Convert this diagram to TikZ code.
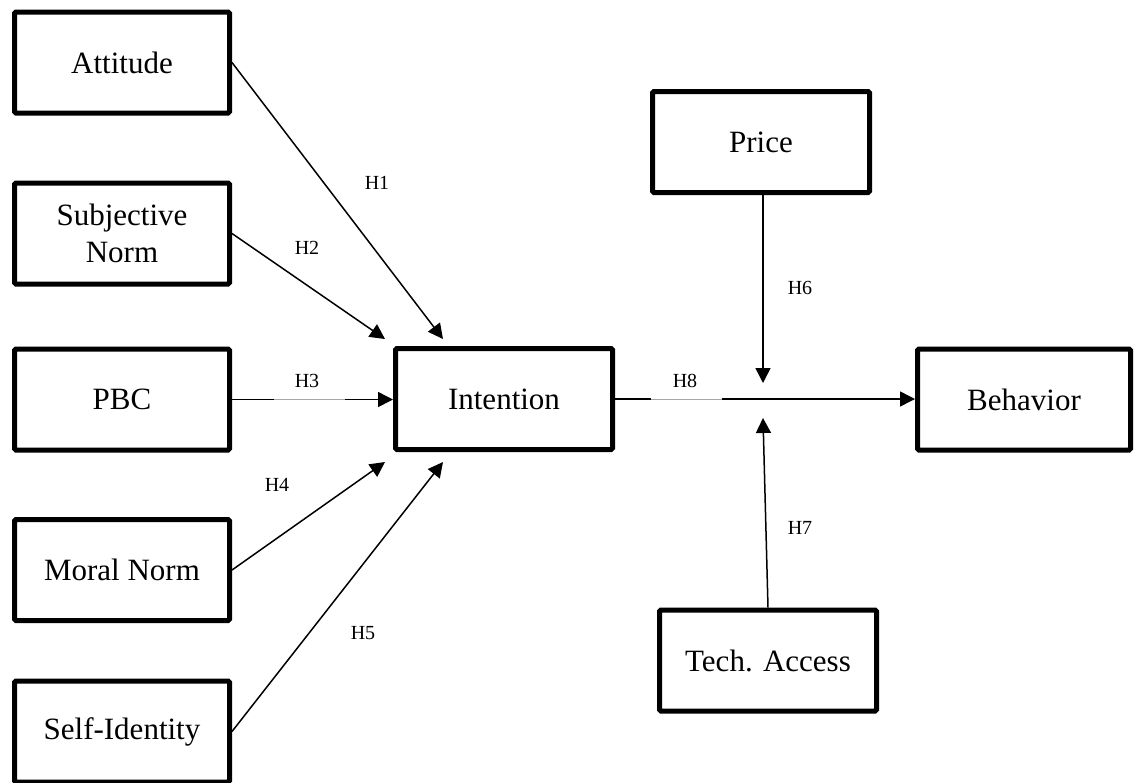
\documentclass[tikz,border=0pt]{standalone}
\usepackage{fontspec}
\setmainfont{Liberation Serif}
\usetikzlibrary{arrows.meta,calc}

\begin{document}
\begin{tikzpicture}[x=1pt,y=-1pt,
  construct/.style={draw, line width=5pt, rounded corners=1.5pt,
    minimum width=215pt, minimum height=101pt, inner sep=0pt,
    align=center, font=\fontsize{31}{37}\selectfont},
  conn/.style={line width=1.5pt},
  arr/.style={conn, -{Triangle[length=15pt,width=15pt]}},
  hyp/.style={inner sep=0pt, font=\fontsize{20}{24}\selectfont},
  faded/.style={draw=gray!70, line width=0.7pt}
]
\useasboundingbox (0,0) rectangle (1134,782);

% predictors of intention
\node[construct] (att) at (122,62.5)  {Attitude};
\node[construct] (sub) at (122,233.5) {Subjective\\Norm};
\node[construct] (pbc) at (122,399.5) {PBC};
\node[construct] (mor) at (122,570)   {Moral Norm};
\node[construct] (sid) at (122,731.5) {Self-Identity};

% central constructs and moderators
\node[construct, minimum width=217pt] (int) at (504,399)    {Intention};
\node[construct, minimum width=217pt] (pri) at (761,142)    {Price};
\node[construct, minimum width=213pt] (beh) at (1024,399.5) {Behavior};
\node[construct, minimum width=217pt] (tec) at (768,660.5)  {Tech. Access};

% arrow tips
\coordinate (t1) at (443,339);
\coordinate (t2) at (385,339);
\coordinate (t4) at (385,462);
\coordinate (t5) at (443,462);
\coordinate (t6) at (763,383);
\coordinate (t7) at (763,418);

% paths into intention
\draw[arr] (att.east) -- (t1);
\draw[arr] (sub.east) -- (t2);
\draw[arr] (pbc.east) -- (pbc.east -| int.west);
\draw[arr] (mor.east) -- (t4);
\draw[arr] (sid.east) -- (t5);

% intention to behavior, moderated by price and access
\draw[arr] (int.east) -- (int.east -| beh.west);
\draw[arr] (pri.south -| t6) -- (t6);
\draw[arr] (tec.north) -- (t7);

% thin stretches on the two horizontal paths
\draw[white, line width=2pt] (274,399.5) -- (345,399.5);
\draw[faded] (274,399.5) -- (345,399.5);
\draw[white, line width=2pt] (651,399) -- (722,399);
\draw[faded] (651,399) -- (722,399);

% hypothesis labels
\node[hyp] (h1) at (377,183) {H1};
\node[hyp] (h2) at (307,248) {H2};
\node[hyp] (h3) at (307,381) {H3};
\node[hyp] (h4) at (277,485) {H4};
\node[hyp] (h5) at (363,633) {H5};
\node[hyp] (h6) at (800,288) {H6};
\node[hyp] (h7) at (800,528) {H7};
\node[hyp] (h8) at (685,381) {H8};
\end{tikzpicture}
\end{document}
